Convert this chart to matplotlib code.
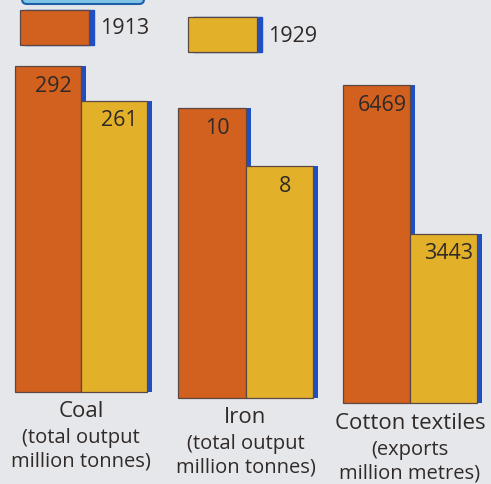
import matplotlib
matplotlib.use("Agg")
import matplotlib.pyplot as plt
from matplotlib.patches import Rectangle, FancyBboxPatch
from matplotlib.transforms import ScaledTranslation

# data
years = ["1913", "1929"]
categories = ["Coal", "Iron", "Cotton textiles"]
subtitles = ["(total output\nmillion tonnes)", "(total output\nmillion tonnes)",
             "(exports\nmillion metres)"]
values_1913 = [292, 10, 6469]
values_1929 = [261, 8, 3443]

ORANGE = "#d2601f"
YELLOW = "#e3b02a"
BLUE = "#1f4fc4"
EDGE = "#5b4842"
TEXT = "#2f2a28"
BG = "#e6e7eb"

W, H = 491, 484
fig = plt.figure(figsize=(W / 100, H / 100), dpi=100)
fig.patch.set_facecolor(BG)
plt.rcParams["font.family"] = ["Open Sans", "DejaVu Sans"]

# panel boxes in pixels: left, right, bottom, top (photo is slightly skewed)
panels = [(15, 147, 392, 66), (178, 313, 398, 108), (343, 477, 403, 85)]
label_tops = [401, 407, 413]

shadow = ScaledTranslation(5 / 100, 0, fig.dpi_scale_trans)

for i, (l, r, b, t) in enumerate(panels):
    ax = fig.add_axes([l / W, (H - b) / H, (r - l) / W, (b - t) / H])
    ax.set_xlim(-0.5, 1.5)
    ax.set_ylim(0, max(values_1913[i], values_1929[i]))
    ax.axis("off")
    vals = [values_1913[i], values_1929[i]]
    cols = [ORANGE, YELLOW]
    for k, v in enumerate(vals):
        ax.bar(k, v, width=1.0, color=BLUE, transform=ax.transData + shadow,
               clip_on=False, zorder=1)
    for k, (v, c) in enumerate(zip(vals, cols)):
        ax.bar(k, v, width=1.0, color=c, edgecolor=EDGE, linewidth=0.9,
               clip_on=False, zorder=2)
        ax.annotate(str(v), (k, v), xytext=(4, -7), textcoords="offset points",
                    ha="center", va="top", fontsize=15.5, color=TEXT, zorder=3)
    cx = (l + r) / 2 / W
    fig.text(cx, 1 - label_tops[i] / H, categories[i], ha="center", va="top",
             fontsize=16, color=TEXT)
    fig.text(cx, 1 - (label_tops[i] + 27) / H, subtitles[i], ha="center", va="top",
             fontsize=14.5, color=TEXT, linespacing=1.2)

# legend swatches drawn by hand, like the printed key
for (x0, y0), c, lab in zip([(20, 10), (188, 17)], [ORANGE, YELLOW], years):
    fig.patches.append(Rectangle(((x0 + 5) / W, 1 - (y0 + 35) / H), 69 / W, 35 / H,
                                 transform=fig.transFigure, color=BLUE, zorder=1))
    fig.patches.append(Rectangle((x0 / W, 1 - (y0 + 35) / H), 69 / W, 35 / H,
                                 transform=fig.transFigure, facecolor=c,
                                 edgecolor=EDGE, linewidth=0.9, zorder=2))
    fig.text((x0 + 80) / W, 1 - (y0 + 19) / H, lab, ha="left", va="center",
             fontsize=15.5, color=TEXT)

# edge of the title box cut off at the top
fig.patches.append(FancyBboxPatch((22 / W, 1 - 4 / H), 122 / W, 20 / H,
                                  boxstyle="round,pad=0,rounding_size=0.01",
                                  transform=fig.transFigure, facecolor="#7fc3e6",
                                  edgecolor="#1d5fa8", linewidth=1.5, zorder=1))

fig.savefig("out.png", dpi=100, facecolor=BG)
